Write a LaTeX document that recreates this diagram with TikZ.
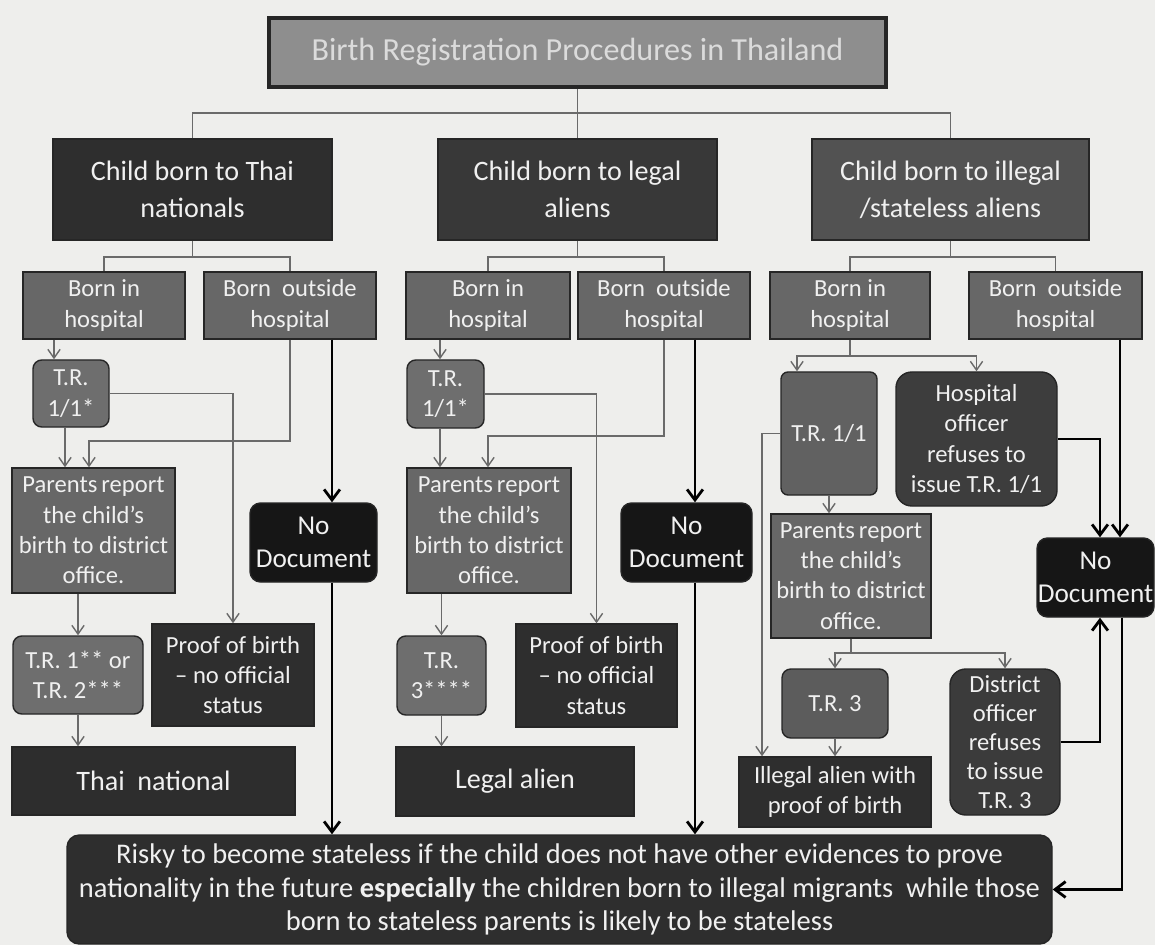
\documentclass[tikz,border=0pt]{standalone}
\usepackage{fontspec}
\setmainfont{Carlito}
\usepackage{xcolor}
\usetikzlibrary{arrows.meta}

\definecolor{paper}{HTML}{EEEEEC}
\definecolor{midgray}{HTML}{8E8E8E}
\definecolor{boxgray}{HTML}{676767}
\definecolor{trgray}{HTML}{6E6E6E}
\definecolor{darkbox}{HTML}{2E2E2E}
\definecolor{blackbox}{HTML}{161616}
\definecolor{linegray}{HTML}{6A6A6A}

\begin{document}
\begin{tikzpicture}[x=0.02cm,y=-0.02cm,
    sz/.style 2 args={minimum width=#1*0.02cm,minimum height=#2*0.02cm},
    box/.style={draw=black!85,line width=0.8pt,inner sep=0pt,text=white!94!black,align=center},
    square/.style={box,font=\fontsize{14}{17.3}\selectfont},
    round/.style={box,rounded corners=5pt,font=\fontsize{14}{17.3}\selectfont},
    nodoc/.style={box,fill=blackbox,rounded corners=6pt,font=\fontsize{15.5}{18.5}\selectfont},
    big/.style={box,font=\fontsize{16}{21}\selectfont},
    tline/.style={draw=linegray,line width=0.8pt},
    arr/.style={tline,-{Straight Barb[length=5pt,width=7pt]}},
    thk/.style={draw=black,line width=1.6pt,-{Straight Barb[length=6pt,width=9pt,line width=1.6pt]}}]

    \fill[paper] (0,0) rectangle (1155,945);

    % title and the three kinds of child
    \node[box,fill=midgray,line width=1.8pt,text=white!86!black,sz={617}{69},font=\fontsize{18.3}{21}\selectfont] (title) at (577.5,52.5) {Birth Registration Procedures in Thailand};
    \node[big,fill=darkbox,sz={279}{101}] (thai) at (192.5,189.5) {Child born to Thai\\nationals};
    \node[big,fill=darkbox!95!white,sz={279}{101}] (legal) at (577.5,189.5) {Child born to legal\\aliens};
    \node[big,fill=black!68,sz={277}{101}] (illegal) at (950.5,189.5) {Child born to illegal\\/stateless aliens};

    \draw[tline] (title.south) -- (title.south |- 0,113);
    \draw[tline] (thai.north) |- (illegal.north |- 0,113) -- (illegal.north);
    \draw[tline] (legal.north) -- (legal.north |- 0,113);

    % born in / born outside hospital
    \node[square,fill=boxgray,sz={162}{67}] (thIn) at (104,305.5) {Born in\\hospital};
    \node[square,fill=boxgray,sz={172}{67}] (thOut) at (290,305.5) {Born\ \ outside\\hospital};
    \node[square,fill=boxgray,sz={164}{67}] (lgIn) at (488,305.5) {Born in\\hospital};
    \node[square,fill=boxgray,sz={172}{67}] (lgOut) at (664,305.5) {Born\ \ outside\\hospital};
    \node[square,fill=boxgray,sz={160}{67}] (ilIn) at (850,305.5) {Born in\\hospital};
    \node[square,fill=boxgray,sz={173}{67}] (ilOut) at (1055.5,305.5) {Born\ \ outside\\hospital};

    \draw[tline] (thai.south) -- (thai.south |- 0,257);
    \draw[tline] (thIn.north) |- (thOut.north |- 0,257) -- (thOut.north);
    \draw[tline] (legal.south) -- (legal.south |- 0,257);
    \draw[tline] (lgIn.north) |- (lgOut.north |- 0,257) -- (lgOut.north);
    \draw[tline] (illegal.south) -- (illegal.south |- 0,257);
    \draw[tline] (ilIn.north) |- (ilOut.north |- 0,257) -- (ilOut.north);

    % Thai nationals
    \node[round,fill=trgray,sz={76}{67}] (thTR) at (71,393.5) {T.R.\\1/1*};
    \node[square,fill=boxgray,sz={163}{125}] (thPar) at (93.5,530.5) {Parents\,report\\the child's\\birth to district\\office.};
    \node[nodoc,sz={127}{79}] (thNo) at (313.5,542.5) {No\\Document};
    \node[round,fill=trgray,sz={130}{78}] (thTR2) at (78,675) {T.R. 1** or\\T.R. 2***};
    \node[square,fill=darkbox,sz={162}{102}] (thProof) at (233,675) {Proof of birth\\– no official\\status};
    \node[big,fill=blackbox!90!white,sz={283}{68}] (thNat) at (153.5,781) {Thai\ \ national};

    \draw[arr] (thIn.south -| 54,0) -- (thTR.north -| 54,0);
    \draw[arr] (thTR.east) -| (thProof.north);
    \draw[arr] (thTR.south -| 65,0) -- (thPar.north -| 65,0);
    \draw[arr] (thOut.south) -- (thOut.south |- 0,441) -| (thPar.north -| 89,0);
    \draw[arr] (thPar.south -| thTR2.north) -- (thTR2.north);
    \draw[arr] (thTR2.south) -- (thNat.north -| thTR2.south);

    % legal aliens
    \node[round,fill=trgray,sz={77}{68}] (lgTR) at (445.5,394) {T.R.\\1/1*};
    \node[square,fill=boxgray,sz={164}{125}] (lgPar) at (489,530.5) {Parents\,report\\the child's\\birth to district\\office.};
    \node[nodoc,sz={131}{79}] (lgNo) at (686.5,542.5) {No\\Document};
    \node[round,fill=trgray,sz={89}{79}] (lgTR3) at (441.5,675.5) {T.R.\\3****};
    \node[square,fill=darkbox,sz={161}{103}] (lgProof) at (596.5,675.5) {Proof of birth\\– no official\\status};
    \node[big,fill=blackbox!90!white,sz={238}{69}] (lgAlien) at (515,781.5) {Legal alien};

    \draw[arr] (lgIn.south -| 440,0) -- (lgTR.north -| 440,0);
    \draw[arr] (lgTR.east) -| (lgProof.north);
    \draw[arr] (lgTR.south -| 440,0) -- (lgPar.north -| 440,0);
    \draw[arr] (lgOut.south) -- (lgOut.south |- 0,436) -| (lgPar.north -| 488,0);
    \draw[arr] (lgPar.south -| lgTR3.north) -- (lgTR3.north);
    \draw[arr] (lgTR3.south) -- (lgAlien.north -| lgTR3.south);

    % illegal / stateless aliens
    \node[round,fill=black!62,rounded corners=4pt,sz={96}{123}] (ilTR) at (829,433.5) {T.R. 1/1};
    \node[round,fill=black!76,rounded corners=9pt,sz={161}{134}] (hosp) at (976.5,439) {Hospital\\officer\\refuses to\\issue T.R. 1/1};
    \node[square,fill=boxgray,sz={160}{124}] (ilPar) at (851,576) {Parents\,report\\the child's\\birth to district\\office.};
    \node[nodoc,sz={117}{79}] (ilNo) at (1095.5,577.5) {No\\Document};
    \node[round,fill=black!64,sz={106}{69}] (ilTR3) at (835,703.5) {T.R. 3};
    \node[round,fill=black!77,rounded corners=9pt,sz={110}{146},font=\fontsize{14}{16.4}\selectfont] (dist) at (1005,742) {District\\officer\\refuses\\to issue\\T.R. 3};
    \node[square,fill=darkbox,sz={192}{70}] (ilAlien) at (835,792) {Illegal alien with\\proof of birth};

    \coordinate (ilFork) at (ilIn.south |- 0,356);
    \draw[tline] (ilIn.south) -- (ilFork);
    \draw[arr] (ilFork) -| (ilTR.north -| 797,0);
    \draw[arr] (ilFork) -| (hosp.north);
    \draw[arr] (ilTR.west) -| (ilAlien.north -| 762,0);
    \draw[arr] (ilTR.south) -- (ilPar.north -| ilTR.south);
    \coordinate (parFork) at (ilPar.south |- 0,653);
    \draw[tline] (ilPar.south) -- (parFork);
    \draw[arr] (parFork) -| (ilTR3.north);
    \draw[arr] (parFork) -| (dist.north);
    \draw[arr] (ilTR3.south) -- (ilAlien.north -| ilTR3.south);

    % outcome
    \node[box,fill=darkbox,rounded corners=7pt,sz={985}{109},font=\fontsize{16.2}{19}\selectfont] (risky) at (559.5,889.5) {Risky to become stateless if the child does not have other evidences to prove\\nationality in the future \textbf{especially} the children born to illegal migrants\ \ while those\\born to stateless parents is likely to be stateless};

    \draw[thk] (thOut.south -| 332,0) -- (thNo.north -| 332,0);
    \draw[thk] (thNo.south -| 332,0) -- (risky.north -| 332,0);
    \draw[thk] (lgOut.south -| 695,0) -- (lgNo.north -| 695,0);
    \draw[thk] (lgNo.south -| 695,0) -- (risky.north -| 695,0);
    \draw[thk] (hosp.east) -| (ilNo.north -| 1100,0);
    \draw[thk] (ilOut.south -| 1120,0) -- (ilNo.north -| 1120,0);
    \draw[thk] (dist.east) -| (ilNo.south -| 1100,0);
    \draw[thk] (ilNo.south -| 1122,0) |- (risky.east);
\end{tikzpicture}
\end{document}
